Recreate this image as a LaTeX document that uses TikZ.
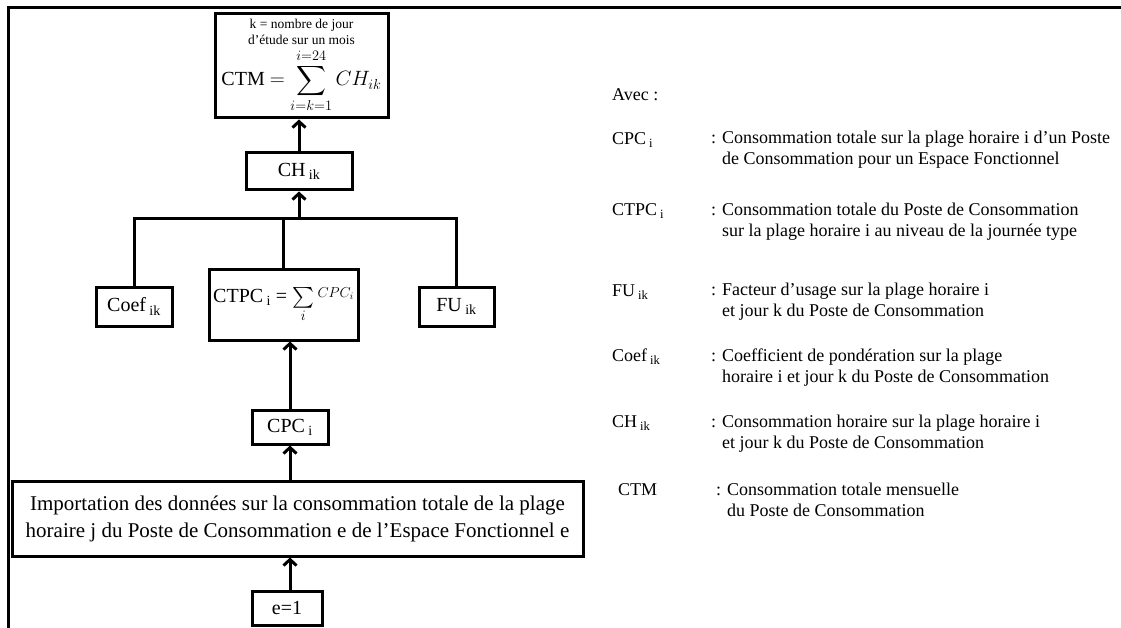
\documentclass[tikz,border=0pt]{standalone}
\usepackage{amsmath}
\usepackage{fontspec}
\setmainfont{Liberation Serif}
\usetikzlibrary{arrows.meta}

\newcommand{\sbx}[1]{\,\textsubscript{#1}}

\begin{document}
\begin{tikzpicture}[x=1pt,y=-1pt,
  bx/.style={draw,line width=3pt,inner sep=0pt,align=center,font=\fontsize{20}{24}\selectfont},
  ln/.style={line width=3pt},
  ar/.style={line width=3pt,-{Straight Barb[length=6pt,width=13pt]}},
  lg/.style={anchor=west,inner sep=0pt,align=left,font=\fontsize{18}{21}\selectfont}]
  \useasboundingbox (0,0) rectangle (1121,628);
  \draw[ln] (8,628) -- (8,8) -- (1121,8);
  % left column
  \node[bx,minimum width=173pt,minimum height=104pt,font=\fontsize{13.5}{16}\selectfont] (ctm) at (301.5,66)
    {k = nombre de jour\\
     d’étude sur un mois\\[3pt]
     \fontsize{20}{24}\selectfont CTM $=\displaystyle\sum_{i=k=1}^{i=24} CH_{ik}$};
  \node[bx,minimum width=106pt,minimum height=37pt] (ch) at (299,171.5) {CH\sbx{ik}};
  \coordinate (bus) at (0,219);
  \node[bx,minimum width=76pt,minimum height=39pt] (coef) at (134,306.5) {Coef\sbx{ik}};
  \node[bx,minimum width=149pt,minimum height=70pt] (ctpc) at (283.5,305)
    {CTPC\sbx{i} = $\sum\limits_{i}\raisebox{.6ex}{$\scriptstyle CPC_i$}$};
  \node[bx,minimum width=75pt,minimum height=39pt] (fu) at (456.5,306.5) {FU\sbx{ik}};
  \node[bx,minimum width=76pt,minimum height=34pt] (cpc) at (290,427) {CPC\sbx{i}};
  \node[bx,minimum width=571pt,minimum height=75pt,font=\fontsize{21}{27}\selectfont] (imp) at (297.5,518.5)
    {Importation des données sur la consommation totale de la plage\\
     horaire j du Poste de Consommation e de l’Espace Fonctionnel e};
  \node[bx,minimum width=70pt,minimum height=34pt] (e1) at (287,608) {e=1};
  \draw[ar] (ch.north) -- (ch.north |- ctm.south);
  \draw[ar] (bus -| ch.south) -- (ch.south);
  \draw[ln] (coef.north) |- (bus -| fu.north) -- (fu.north);
  \draw[ln] (ctpc.north) -- (ctpc.north |- bus);
  \draw[ar] (cpc.north) -- (cpc.north |- ctpc.south);
  \draw[ar] (imp.north -| cpc.north) -- (cpc.south);
  \draw[ar] (e1.north -| cpc.south) -- (imp.south -| cpc.south);
  % legend
  \node[lg] (avec) at (612,95) {Avec :};
  \node[lg] (s1) at (612,140) {CPC\sbx{i}};
  \node[lg] (d1) at (711,150) {: Consommation totale sur la plage horaire i d’un Poste\\
    \hphantom{: }de Consommation pour un Espace Fonctionnel};
  \node[lg] (s2) at (612,211) {CTPC\sbx{i}};
  \node[lg] (d2) at (711,221.5) {: Consommation totale du Poste de Consommation\\
    \hphantom{: }sur la plage horaire i au niveau de la journée type};
  \node[lg] (s3) at (612,292) {FU\sbx{ik}};
  \node[lg] (d3) at (711,302) {: Facteur d’usage sur la plage horaire i\\
    \hphantom{: }et jour k du Poste de Consommation};
  \node[lg] (s4) at (612,357) {Coef\sbx{ik}};
  \node[lg] (d4) at (711,368) {: Coefficient de pondération sur la plage\\
    \hphantom{: }horaire i et jour k du Poste de Consommation};
  \node[lg] (s5) at (612,423) {CH\sbx{ik}};
  \node[lg] (d5) at (711,434) {: Consommation horaire sur la plage horaire i\\
    \hphantom{: }et jour k du Poste de Consommation};
  \node[lg] (s6) at (618,490) {CTM};
  \node[lg] (d6) at (716,500) {: Consommation totale mensuelle\\
    \hphantom{: }du Poste de Consommation};
\end{tikzpicture}
\end{document}
